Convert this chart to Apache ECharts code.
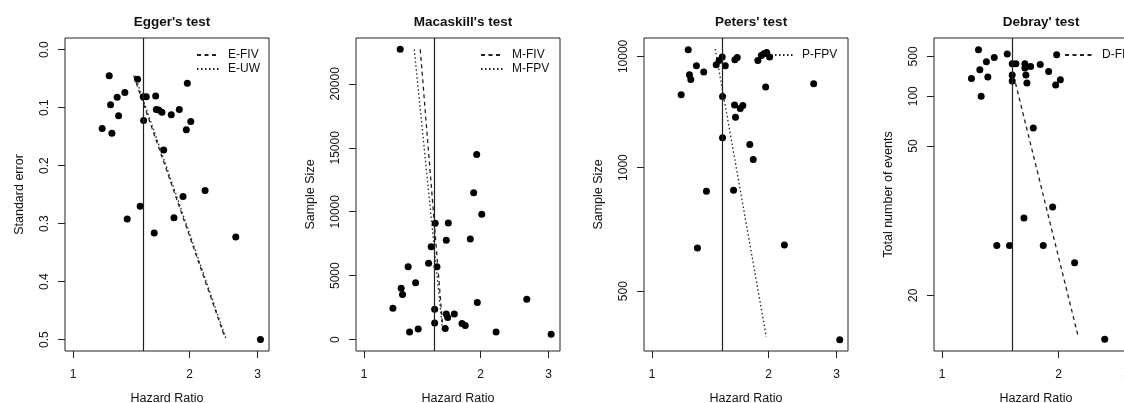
<!DOCTYPE html>
<html><head><meta charset="utf-8">
<script src="https://cdn.jsdelivr.net/npm/echarts@6/dist/echarts.min.js"></script>
<style>html,body{margin:0;padding:0;background:#fff}#c{width:1124px;height:403px}</style>
</head><body><div id="c"></div>
<script>
// ---- shared ----
const xTicks = [1, 2, 3];
const refHR = 1.52;
const panelTitles = ["Egger's test", "Macaskill's test", "Peters' test", "Debray' test"];
const yNames = ["Standard error", "Sample Size", "Sample Size", "Total number of events"];

// ---- Egger ----
const eggerHR = [1.24,1.468,1.974,1.361,1.30,1.518,1.546,1.635,1.25,1.641,1.664,1.697,1.794,1.882,1.311,1.522,2.015,1.189,1.26,1.962,1.715,2.194,1.924,1.491,1.38,1.823,1.621,2.634,3.051];
const eggerSE = [0.045,0.051,0.058,0.074,0.082,0.081,0.081,0.080,0.095,0.103,0.104,0.108,0.112,0.103,0.114,0.122,0.124,0.136,0.144,0.138,0.173,0.243,0.253,0.270,0.292,0.290,0.316,0.323,0.500];
const eggerFIV_HR = [1.435, 2.47];
const eggerFIV_SE = [0.045, 0.497];
const eggerUW_HR = [1.445, 2.49];
const eggerUW_SE = [0.045, 0.500];
const eggerYTicks = [0, 0.1, 0.2, 0.3, 0.4, 0.5];

// ---- Macaskill ----
const macHR = [1.24,1.527,1.651,1.955,1.92,2.015,1.631,1.882,1.491,1.468,1.543,1.30,1.359,1.247,1.257,1.187,1.962,2.634,1.522,1.631,1.711,1.645,1.522,1.791,1.826,1.621,1.311,1.38,2.194,3.045];
const macN = [22700,9090,9120,14470,11490,9800,7760,7860,7260,5980,5690,5690,4440,4020,3530,2450,2900,3160,2380,2010,2010,1720,1300,1250,1100,860,600,830,600,415];
const macFIV_HR = [1.397, 1.602];
const macFIV_N = [22700, 470];
const macFPV_HR = [1.348, 1.596];
const macFPV_N = [22700, 700];
const macYTicks = [0, 5000, 10000, 15000, 20000];

// ---- Peters ----
const petHR = [1.24,1.465,1.491,1.518,1.546,1.637,1.66,1.302,1.36,1.249,1.259,1.189,1.521,1.634,1.69,1.716,1.643,1.521,1.789,1.826,1.382,1.624,1.31,2.198,3.056,2.617,1.966,1.877,1.916,1.945,1.978,2.013];
const petN = [21900,5980,7550,9530,5700,7880,9200,5700,4420,4030,3490,2440,2360,2030,1920,2010,1690,1320,1230,1070,840,845,606,615,418,3110,2870,7550,10900,12800,14800,9530];
const petFPV_HR = [1.456, 1.974];
const petFPV_N = [25000, 422];
const petYTicks = [500, 1000, 10000];

// ---- Debray ----
const debHR = [1.242,1.474,1.364,1.302,1.252,1.191,1.313,1.262,1.518,1.552,1.637,1.637,1.694,1.794,1.886,1.518,1.518,1.647,1.657,1.978,2.022,1.966,1.721,1.931,1.628,1.385,1.494,1.826,2.201,2.633];
const debE = [1530,660,455,326,214,156,163,100,288,288,288,231,250,277,199,174,144,174,136,600,150,129,61,31,29,25,25,25,23,17];
const debFIV_HR = [1.548, 2.246];
const debFIV_E = [136, 17.2];
const debYTicks = [20, 50, 100, 500];

// ---- build ----
const FONT = 'Liberation Sans, Arial, Helvetica, sans-serif';
const INK = '#111';
const gridLefts = [65, 356, 644, 934];
const GT = 38, GW = 204, GH = 313;
const inv = v => 1 / v;
const pairs = (xs, ys, f) => xs.map((x, i) => [x, f ? f(ys[i]) : ys[i]]);
const DASH = [4, 3.5];
const DOT = [1.5, 2.5];

const grids = gridLefts.map(l => ({left: l, top: GT, width: GW, height: GH, show: true,
  borderColor: '#222', borderWidth: 1, backgroundColor: 'transparent', containLabel: false, outerBoundsMode: 'none'}));

const xAxes = gridLefts.map((l, i) => ({
  gridIndex: i, type: 'log', logBase: 10, min: 0.953, max: 3.21, position: 'bottom',
  axisLine: {show: false, onZero: false}, splitLine: {show: false},
  axisTick: {show: true, length: 7, customValues: xTicks, lineStyle: {color: '#222', width: 1}},
  axisLabel: {customValues: xTicks, fontSize: 12, color: INK, fontFamily: FONT, margin: 18, formatter: v => String(Math.round(v))},
  name: 'Hazard Ratio', nameLocation: 'middle', nameGap: 41,
  nameTextStyle: {fontSize: 12.5, color: INK, fontFamily: FONT}
}));

function yAxis(i, cfg) {
  return Object.assign({
    gridIndex: i, type: 'value', position: 'left',
    axisLine: {show: false, onZero: false}, splitLine: {show: false},
    axisTick: {show: true, length: 7, customValues: cfg.ticks, lineStyle: {color: '#222', width: 1}},
    axisLabel: {customValues: cfg.ticks, rotate: 90, fontSize: 12, color: INK, fontFamily: FONT, margin: 14.5, formatter: cfg.fmt},
    name: yNames[i], nameLocation: 'middle', nameGap: 39,
    nameTextStyle: {fontSize: 12.5, color: INK, fontFamily: FONT}
  }, cfg.extra);
}
const yAxes = [
  yAxis(0, {ticks: eggerYTicks, fmt: v => v.toFixed(1), extra: {min: -0.0202, max: 0.5197, inverse: true}}),
  yAxis(1, {ticks: macYTicks, fmt: v => String(Math.round(v)), extra: {min: -893, max: 23589}}),
  yAxis(2, {ticks: petYTicks.map(inv), fmt: v => String(Math.round(1 / v)), extra: {min: -0.000049, max: 0.002484, inverse: true}}),
  yAxis(3, {ticks: debYTicks.map(inv), fmt: v => String(Math.round(1 / v)), extra: {min: -0.00171, max: 0.0612, inverse: true}})
];

function scatter(i, data) {
  return {type: 'scatter', xAxisIndex: i, yAxisIndex: i, data, symbolSize: 7,
    itemStyle: {color: '#000', opacity: 1}, silent: true, z: 3};
}
function refLine(i) {
  return {type: 'line', xAxisIndex: i, yAxisIndex: i, data: [], silent: true,
    markLine: {silent: true, symbol: 'none', label: {show: false},
      lineStyle: {color: '#222', type: 'solid', width: 1.2}, data: [{xAxis: refHR}]}};
}
function fitLine(i, name, data, dash) {
  return {type: 'line', name, xAxisIndex: i, yAxisIndex: i, data, symbol: 'none', showSymbol: false,
    silent: true, lineStyle: {color: '#222', width: 1.3, type: dash}, itemStyle: {color: '#222'}, z: 2};
}

const series = [
  scatter(0, pairs(eggerHR, eggerSE)), refLine(0),
  fitLine(0, 'E-FIV', pairs(eggerFIV_HR, eggerFIV_SE), DASH),
  fitLine(0, 'E-UW', pairs(eggerUW_HR, eggerUW_SE), DOT),
  scatter(1, pairs(macHR, macN)), refLine(1),
  fitLine(1, 'M-FIV', pairs(macFIV_HR, macFIV_N), DASH),
  fitLine(1, 'M-FPV', pairs(macFPV_HR, macFPV_N), DOT),
  scatter(2, pairs(petHR, petN, inv)), refLine(2),
  fitLine(2, 'P-FPV', pairs(petFPV_HR, petFPV_N, inv), DOT),
  scatter(3, pairs(debHR, debE, inv)), refLine(3),
  fitLine(3, 'D-FIV', pairs(debFIV_HR, debFIV_E, inv), DASH)
];

function legend(left, names, w) {
  return {left, top: 48.5, orient: 'vertical', data: names, itemWidth: w || 22, itemHeight: 8, itemGap: 1,
    selectedMode: false, padding: 0,
    itemStyle: {color: 'rgba(0,0,0,0)', borderColor: 'rgba(0,0,0,0)', borderWidth: 0},
    textStyle: {fontSize: 12, lineHeight: 13, color: INK, fontFamily: FONT, padding: [0, 0, 0, 4]}};
}

const titles = gridLefts.map((l, i) => ({
  text: panelTitles[i], left: l + GW / 2, top: 10, textAlign: 'center',
  textStyle: {fontSize: 13.5, fontWeight: 'bold', color: INK, fontFamily: FONT}
}));

const chart = echarts.init(document.getElementById('c'), null, {renderer: 'canvas'});
chart.setOption({
  animation: false,
  backgroundColor: '#fff',
  title: titles,
  legend: [legend(196, ['E-FIV', 'E-UW']), legend(480, ['M-FIV', 'M-FPV']), legend(770, ['P-FPV']), legend(1064, ['D-FIV'], 28)],
  grid: grids, xAxis: xAxes, yAxis: yAxes, series
});
</script></body></html>
